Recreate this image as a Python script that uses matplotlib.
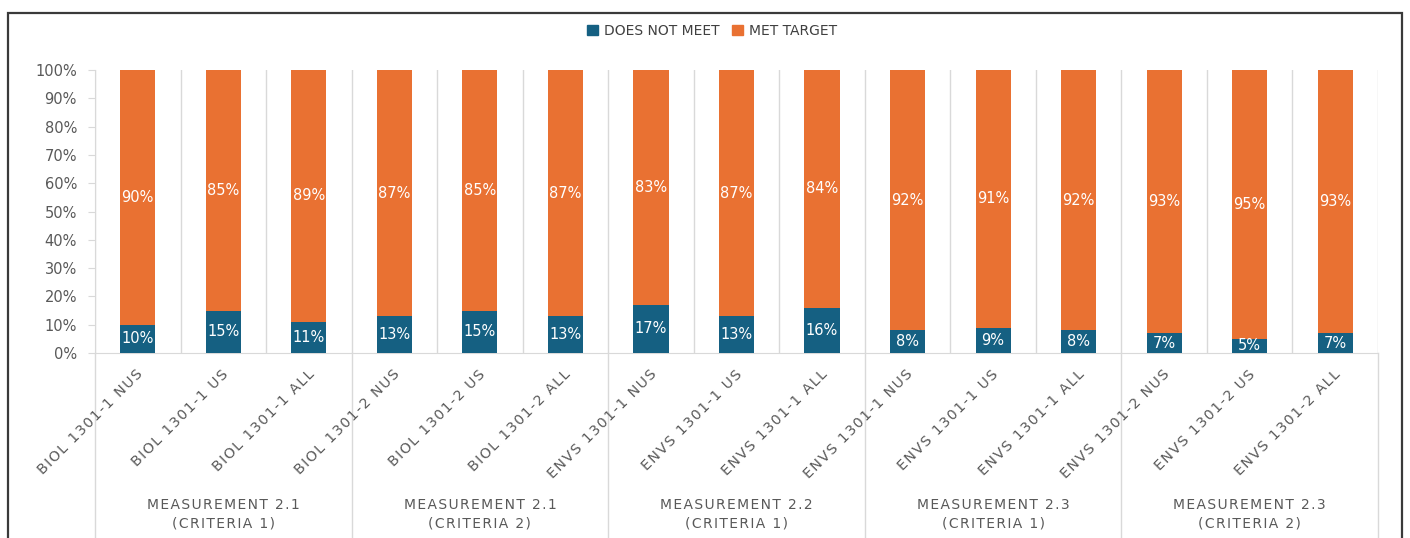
import matplotlib
matplotlib.use('Agg')
import matplotlib.pyplot as plt
from matplotlib.patches import Patch, Rectangle
from matplotlib.ticker import PercentFormatter

categories = ['BIOL 1301-1 NUS', 'BIOL 1301-1 US', 'BIOL 1301-1 ALL',
              'BIOL 1301-2 NUS', 'BIOL 1301-2 US', 'BIOL 1301-2 ALL',
              'ENVS 1301-1 NUS', 'ENVS 1301-1 US', 'ENVS 1301-1 ALL',
              'ENVS 1301-1 NUS', 'ENVS 1301-1 US', 'ENVS 1301-1 ALL',
              'ENVS 1301-2 NUS', 'ENVS 1301-2 US', 'ENVS 1301-2 ALL']
groups = ['MEASUREMENT 2.1\n(CRITERIA 1)', 'MEASUREMENT 2.1\n(CRITERIA 2)',
          'MEASUREMENT 2.2\n(CRITERIA 1)', 'MEASUREMENT 2.3\n(CRITERIA 1)',
          'MEASUREMENT 2.3\n(CRITERIA 2)']
does_not_meet = [10, 15, 11, 13, 15, 13, 17, 13, 16, 8, 9, 8, 7, 5, 7]
met_target = [90, 85, 89, 87, 85, 87, 83, 87, 84, 92, 91, 92, 93, 95, 93]

BLUE = '#156082'
ORANGE = '#E97132'
GREY_TXT = '#595959'
GRID = '#d9d9d9'


def spaced(s, gap='\u200a'):
    """ add a little letter spacing, like the office font """
    return '\n'.join(gap.join(line) for line in s.split('\n'))


fig = plt.figure(figsize=(14.1, 5.38), dpi=100)
ax = fig.add_axes([95 / 1410, 1 - 353 / 538, (1378 - 95) / 1410, 283 / 538])

x = list(range(len(categories)))
low = [v / 100 for v in does_not_meet]
high = [v / 100 for v in met_target]
ax.bar(x, low, width=0.41, color=BLUE, zorder=3)
ax.bar(x, high, width=0.41, bottom=low, color=ORANGE, zorder=3)

for i in x:
    ax.text(i, low[i] / 2, f'{does_not_meet[i]}%', ha='center', va='center',
            color='white', fontsize=10.5, zorder=4)
    ax.text(i, low[i] + high[i] / 2, f'{met_target[i]}%', ha='center', va='center',
            color='white', fontsize=10.5, zorder=4)

ax.set_xlim(-0.5, len(categories) - 0.5)
ax.set_ylim(0, 1)
ax.set_yticks([k / 10 for k in range(11)])
ax.yaxis.set_major_formatter(PercentFormatter(1.0, decimals=0))
ax.tick_params(axis='y', colors=GRID, labelcolor=GREY_TXT, labelsize=10.5,
               length=5, pad=8)
ax.set_xticks([])
for side in ['top', 'right']:
    ax.spines[side].set_visible(False)
ax.spines['left'].set_color(GRID)
ax.spines['bottom'].set_color(GRID)

# vertical lines between categories, group boundaries go down to the bottom
trans = ax.get_xaxis_transform()
for k in range(len(categories) + 1):
    xb = k - 0.5
    ax.plot([xb, xb], [0, 1], color=GRID, lw=1, transform=trans, zorder=1)
    if k % 3 == 0:
        ax.plot([xb, xb], [0, -0.65], color=GRID, lw=1, transform=trans,
                clip_on=False, zorder=1)

for i, cat in enumerate(categories):
    ax.text(i - 0.02, -0.05, spaced(cat), rotation=45, ha='right', va='top',
            rotation_mode='anchor', transform=trans, fontsize=10.3, color=GREY_TXT)

for g, label in enumerate(groups):
    ax.text(3 * g + 1, -0.57, spaced(label), ha='center', va='center',
            transform=trans, fontsize=10, color=GREY_TXT, linespacing=1.4)

handles = [Patch(color=BLUE, label='DOES NOT MEET'), Patch(color=ORANGE, label='MET TARGET')]
fig.legend(handles=handles, loc='center', bbox_to_anchor=(0.505, 1 - 31 / 538), ncol=2,
           frameon=False, handlelength=0.8, handleheight=0.8, handletextpad=0.4,
           columnspacing=0.9, labelcolor='#404040', fontsize=10)

# outer chart frame
fig.patches.append(Rectangle((8 / 1410, -0.05), (1402 - 8) / 1410, 1.05 - 13 / 538,
                             transform=fig.transFigure, fill=False,
                             edgecolor='#3a3a3a', lw=1.6))

fig.savefig('out.png', dpi=100)
